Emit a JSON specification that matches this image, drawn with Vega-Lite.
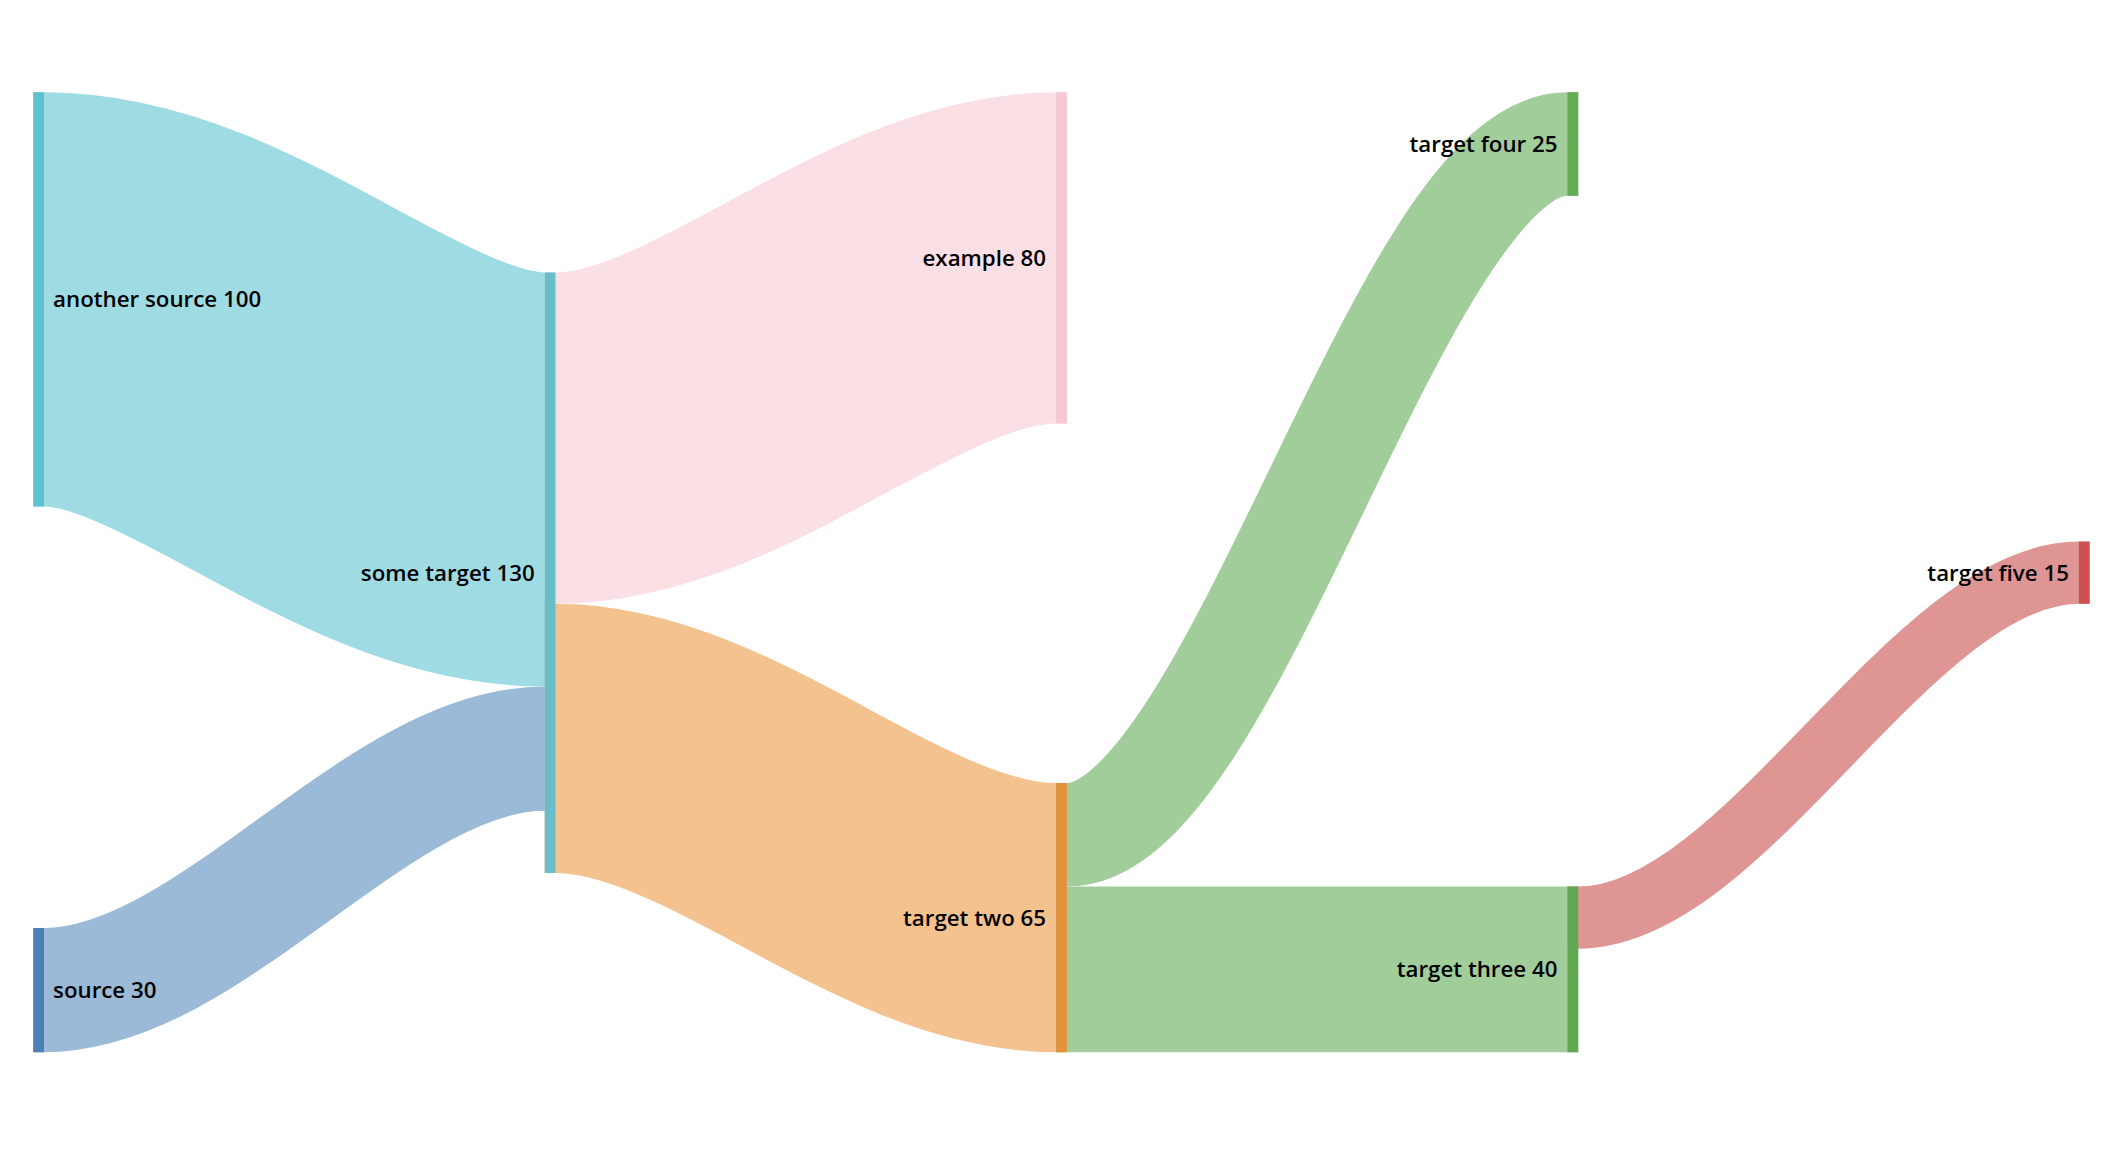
{
  "$schema": "https://vega.github.io/schema/vega-lite/v6.json",
  "width": 2124,
  "height": 1172,
  "autosize": "none",
  "padding": 0,
  "background": "white",
  "config": {"view": {"stroke": null}},
  "datasets": {
    "nodes": [
      {"name": "another source", "label": "another source 100", "col": 0, "x0": 0, "x1": 0.021, "y0": 0, "y1": 100},
      {"name": "source", "label": "source 30", "col": 0, "x0": 0, "x1": 0.021, "y0": 201.8, "y1": 231.8},
      {"name": "some target", "label": "some target 130", "col": 1, "x0": 1, "x1": 1.021, "y0": 43.5, "y1": 188.5},
      {"name": "example", "label": "example 80", "col": 2, "x0": 2, "x1": 2.021, "y0": 0, "y1": 80},
      {"name": "target two", "label": "target two 65", "col": 2, "x0": 2, "x1": 2.021, "y0": 166.8, "y1": 231.8},
      {"name": "target four", "label": "target four 25", "col": 3, "x0": 3, "x1": 3.021, "y0": 0, "y1": 25},
      {"name": "target three", "label": "target three 40", "col": 3, "x0": 3, "x1": 3.021, "y0": 191.8, "y1": 231.8},
      {"name": "target five", "label": "target five 15", "col": 4, "x0": 4, "x1": 4.021, "y0": 108.5, "y1": 123.5}
    ],
    "links": [
      {"link": "another source → some target", "value": 100, "x": 0, "y": 50},
      {"link": "another source → some target", "value": 100, "x": 0.021, "y": 50},
      {"link": "another source → some target", "value": 100, "x": 1, "y": 93.5},
      {"link": "another source → some target", "value": 100, "x": 1.021, "y": 93.5},
      {"link": "source → some target", "value": 30, "x": 0, "y": 216.8},
      {"link": "source → some target", "value": 30, "x": 0.021, "y": 216.8},
      {"link": "source → some target", "value": 30, "x": 1, "y": 158.5},
      {"link": "source → some target", "value": 30, "x": 1.021, "y": 158.5},
      {"link": "some target → example", "value": 80, "x": 1, "y": 83.5},
      {"link": "some target → example", "value": 80, "x": 1.021, "y": 83.5},
      {"link": "some target → example", "value": 80, "x": 2, "y": 40},
      {"link": "some target → example", "value": 80, "x": 2.021, "y": 40},
      {"link": "some target → target two", "value": 65, "x": 1, "y": 156},
      {"link": "some target → target two", "value": 65, "x": 1.021, "y": 156},
      {"link": "some target → target two", "value": 65, "x": 2, "y": 199.3},
      {"link": "some target → target two", "value": 65, "x": 2.021, "y": 199.3},
      {"link": "target two → target four", "value": 25, "x": 2, "y": 179.3},
      {"link": "target two → target four", "value": 25, "x": 2.021, "y": 179.3},
      {"link": "target two → target four", "value": 25, "x": 3, "y": 12.5},
      {"link": "target two → target four", "value": 25, "x": 3.021, "y": 12.5},
      {"link": "target two → target three", "value": 40, "x": 2, "y": 211.8},
      {"link": "target two → target three", "value": 40, "x": 2.021, "y": 211.8},
      {"link": "target two → target three", "value": 40, "x": 3, "y": 211.8},
      {"link": "target two → target three", "value": 40, "x": 3.021, "y": 211.8},
      {"link": "target three → target five", "value": 15, "x": 3, "y": 199.3},
      {"link": "target three → target five", "value": 15, "x": 3.021, "y": 199.3},
      {"link": "target three → target five", "value": 15, "x": 4, "y": 116},
      {"link": "target three → target five", "value": 15, "x": 4.021, "y": 116}
    ]
  },
  "layer": [
    {
      "data": {"name": "links"},
      "mark": {"type": "line", "interpolate": "monotone", "strokeCap": "butt"},
      "encoding": {
        "x": {"field": "x", "type": "quantitative", "scale": {"domain": [-0.0651, 4.0882], "nice": false, "zero": false}, "axis": null},
        "y": {"field": "y", "type": "quantitative", "scale": {"domain": [-22.29, 260.73], "nice": false, "zero": false, "reverse": true}, "axis": null},
        "color": {
          "field": "link", "type": "nominal", "legend": null,
          "scale": {
            "domain": ["another source → some target", "source → some target", "some target → example", "some target → target two", "target two → target four", "target two → target three", "target three → target five"],
            "range": ["#9fdbe3", "#9abad7", "#fadfe4", "#f4c28e", "#a1cd9b", "#a1cd9b", "#df9594"]
          }
        },
        "strokeWidth": {"field": "value", "type": "quantitative", "legend": null, "scale": {"domain": [0, 100], "range": [0, 414.1]}}
      }
    },
    {
      "data": {"name": "nodes"},
      "mark": {"type": "rect"},
      "encoding": {
        "x": {"field": "x0", "type": "quantitative", "scale": {"domain": [-0.0651, 4.0882], "nice": false, "zero": false}, "axis": null},
        "x2": {"field": "x1"},
        "y": {"field": "y0", "type": "quantitative", "scale": {"domain": [-22.29, 260.73], "nice": false, "zero": false, "reverse": true}, "axis": null},
        "y2": {"field": "y1"},
        "color": {
          "field": "name", "type": "nominal", "legend": null,
          "scale": {
            "domain": ["another source", "source", "some target", "example", "target two", "target four", "target three", "target five"],
            "range": ["#5ec1ce", "#4a80b6", "#68bdc8", "#f6c8d2", "#e3913b", "#63ac56", "#62a853", "#cf5050"]
          }
        }
      }
    },
    {
      "data": {"name": "nodes"},
      "transform": [
        {"filter": "datum.col == 0"},
        {"fold": ["y0", "y1"], "as": ["k", "yv"]},
        {"aggregate": [{"op": "mean", "field": "yv", "as": "ym"}], "groupby": ["label", "x1"]}
      ],
      "mark": {"type": "text", "align": "left", "baseline": "middle", "dx": 9, "dy": 1, "font": "Open Sans", "fontSize": 22.3, "fontWeight": 600, "color": "#000000"},
      "encoding": {
        "x": {"field": "x1", "type": "quantitative", "axis": null},
        "y": {"field": "ym", "type": "quantitative", "axis": null},
        "text": {"field": "label"}
      }
    },
    {
      "data": {"name": "nodes"},
      "transform": [
        {"filter": "datum.col > 0"},
        {"fold": ["y0", "y1"], "as": ["k", "yv"]},
        {"aggregate": [{"op": "mean", "field": "yv", "as": "ym"}], "groupby": ["label", "x0"]}
      ],
      "mark": {"type": "text", "align": "right", "baseline": "middle", "dx": -10, "dy": 1, "font": "Open Sans", "fontSize": 22.3, "fontWeight": 600, "color": "#000000"},
      "encoding": {
        "x": {"field": "x0", "type": "quantitative", "axis": null},
        "y": {"field": "ym", "type": "quantitative", "axis": null},
        "text": {"field": "label"}
      }
    }
  ],
  "resolve": {"scale": {"color": "independent", "strokeWidth": "independent"}}
}
